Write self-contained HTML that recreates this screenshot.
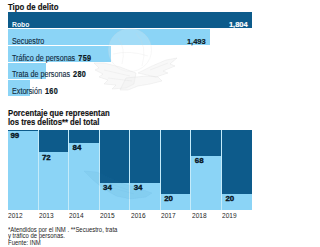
<!DOCTYPE html>
<html><head><meta charset="utf-8">
<style>
*{margin:0;padding:0;box-sizing:border-box}
html,body{width:300px;height:247px;background:#fff;overflow:hidden;position:relative;font-family:"Liberation Sans",sans-serif}
.t{position:absolute;white-space:nowrap;line-height:1}
.h{font-weight:bold;font-size:8.6px;color:#111;-webkit-text-stroke:0.15px #111;left:8px;transform:scaleX(0.905);transform-origin:0 0}
.bar{position:absolute;left:8px;height:16px}
.dkb{background:#0d5b8b}
.lt{background:#8bd4f6}
.lab{position:absolute;left:4.3px;top:8.7px;font-size:8.5px;line-height:1;white-space:nowrap;color:#112b40;-webkit-text-stroke:0.12px #112b40;transform:scaleX(0.845);transform-origin:0 0}
.lab b{font-weight:bold;font-size:8.6px;letter-spacing:0.35px;color:#0a1722;-webkit-text-stroke:0.2px #0a1722;margin-left:1.3px}
.val{position:absolute;right:4.3px;top:8.6px;font-size:7.5px;font-weight:bold;line-height:1;color:#0a1722;-webkit-text-stroke:0.15px currentColor}
.col{position:absolute;top:130px;width:29.57px;height:80px;background:#8bd4f6}
.dk{background:#0d5b8b;width:100%}
.cv{position:absolute;left:3.4px;font-size:7.9px;font-weight:bold;line-height:1;color:#06121b;-webkit-text-stroke:0.35px #06121b}
.yr{position:absolute;top:212.9px;font-size:6.9px;line-height:1;color:#1e1e1e;transform:scaleX(0.95);transform-origin:0 0}
.ft{position:absolute;left:8px;font-size:6.4px;line-height:1;color:#222;white-space:nowrap;transform:scaleX(0.93);transform-origin:0 0}
</style></head><body>
<span class="t h" style="top:2.9px">Tipo de delito</span>
<div class="bar dkb" style="top:12px;width:244px"><span class="lab" style="color:#f2f8fc;-webkit-text-stroke:0;font-weight:bold;font-size:7.3px;top:9.2px;transform:scaleX(0.93)">Robo</span><span class="val" style="color:#fff">1,804</span></div>
<div class="bar lt" style="top:29px;width:202px"><span class="lab" style="top:7.8px">Secuestro</span><span class="val">1,493</span></div>
<div class="bar lt" style="top:46px;width:103px"><span class="lab" style="top:7.6px">Tráfico de personas <b>759</b></span></div>
<div class="bar lt" style="top:63px;width:38px"><span class="lab" style="top:7.2px">Trata de personas <b>280</b></span></div>
<div class="bar lt" style="top:80px;width:22px"><span class="lab" style="top:6.6px">Extorsión <b>160</b></span></div>
<span class="t h" style="top:108.7px;transform:scaleX(0.898)">Porcentaje que representan</span>
<span class="t h" style="top:117.5px;transform:scaleX(0.89)">los tres delitos** del total</span>
<div style="position:absolute;left:8px;top:130px;width:243.6px;height:80px;background:#c4ebfa"></div>
<div class="col" style="left:8.00px"><div class="dk" style="height:0.8px"></div><span class="cv" style="top:1.7px;left:2.4px">99</span></div>
<span class="yr" style="left:8.30px">2012</span>
<div class="col" style="left:38.57px"><div class="dk" style="height:22.4px"></div><span class="cv" style="top:23.5px">72</span></div>
<span class="yr" style="left:38.87px">2013</span>
<div class="col" style="left:69.14px"><div class="dk" style="height:12.8px"></div><span class="cv" style="top:13.9px">84</span></div>
<span class="yr" style="left:69.44px">2014</span>
<div class="col" style="left:99.71px"><div class="dk" style="height:52.8px"></div><span class="cv" style="top:53.9px">34</span></div>
<span class="yr" style="left:100.01px">2015</span>
<div class="col" style="left:130.28px"><div class="dk" style="height:52.8px"></div><span class="cv" style="top:53.9px">34</span></div>
<span class="yr" style="left:130.58px">2016</span>
<div class="col" style="left:160.85px"><div class="dk" style="height:64.0px"></div><span class="cv" style="top:65.1px">20</span></div>
<span class="yr" style="left:161.15px">2017</span>
<div class="col" style="left:191.42px"><div class="dk" style="height:25.6px"></div><span class="cv" style="top:26.7px">68</span></div>
<span class="yr" style="left:191.72px">2018</span>
<div class="col" style="left:221.99px"><div class="dk" style="height:64.0px"></div><span class="cv" style="top:65.1px">20</span></div>
<span class="yr" style="left:222.29px">2019</span>
<svg style="position:absolute;left:0;top:0" width="300" height="247" viewBox="0 0 300 247">
<circle cx="130" cy="50" r="21.5" fill="#fff" fill-opacity="0.2" stroke="#d9d9d9" stroke-opacity="0.3" stroke-width="0.7"/>
<g fill="none" stroke="#d0d0d0" stroke-opacity="0.3" stroke-width="0.6">
<path d="M118 38 Q126 48 122 64 M136 33 Q148 46 142 66 M113 54 Q130 50 148 56"/>
</g>
<g fill="#eeeeee" fill-opacity="0.4" stroke="#d6d6d6" stroke-opacity="0.45" stroke-width="0.6">
<path d="M136 73 L120 67 L104 63 L94 63 L99 68 L95 70 L103 74 L99 77 L108 80 L104 84 L116 85 L112 89 L126 88 L134 84 Z"/>
<path d="M138 73 L152 66 L166 60 L177 58 L170 64 L175 66 L163 71 L168 73 L156 77 Z"/>
<path d="M126 78 L146 76 L158 77 L162 81 L150 84 L138 86 L128 90 L120 90 Z"/>
</g>
<g fill="none" stroke="#d0d0d0" stroke-opacity="0.4" stroke-width="0.5">
<path d="M104 70 L130 76 M108 78 L132 81 M150 70 L168 63"/>
</g>
<path d="M84 171 L97 172 L110 178 L124 184 L138 188 L152 193 L146 197 L130 199 L116 196 L104 189 L93 180 Z" fill="#2a7fb0" fill-opacity="0.07" stroke="#2a7fb0" stroke-opacity="0.08" stroke-width="0.6"/>
<path d="M100 180 L128 190 M106 186 L134 194" fill="none" stroke="#2a7fb0" stroke-opacity="0.08" stroke-width="0.6"/>
</svg>
<span class="ft" style="top:226.5px">*Atendidos por el INM . **Secuestro, trata</span>
<span class="ft" style="top:233.4px">y tráfico de personas.</span>
<span class="ft" style="top:240.3px">Fuente: INM</span>
</body></html>
